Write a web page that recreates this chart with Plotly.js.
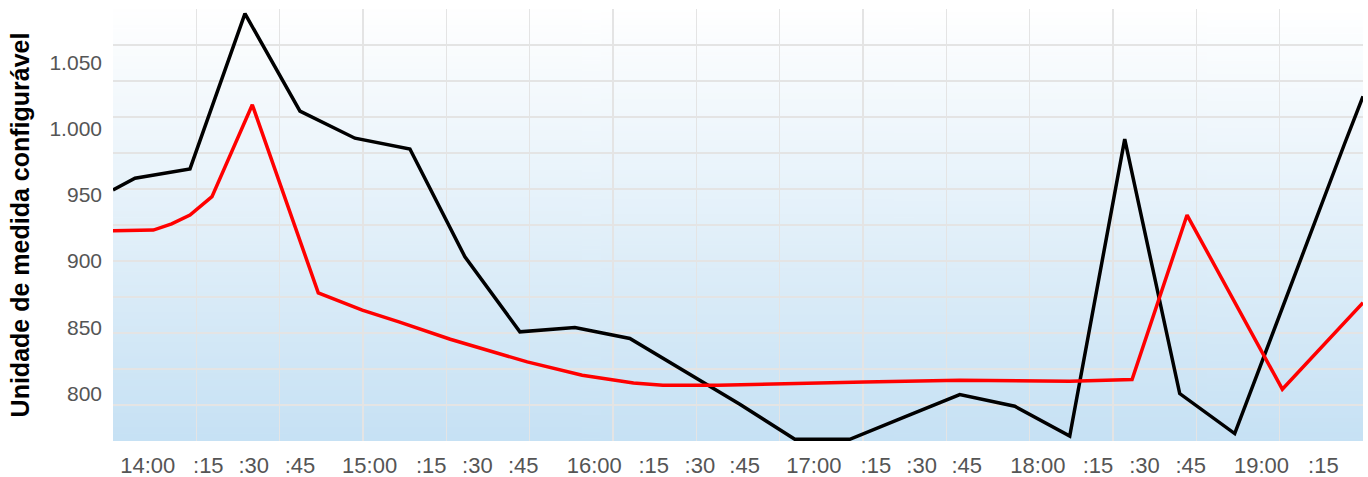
<!DOCTYPE html>
<html>
<head>
<meta charset="utf-8">
<script src="https://cdn.plot.ly/plotly-3.0.1.min.js"></script>
<style>
  html, body { margin: 0; padding: 0; background: #ffffff; }
  #chart { width: 1368px; height: 477px; }
</style>
</head>
<body>
<div id="chart"></div>
<script>
// ---- data (times as HH:MM, values in configurable unit) ----
const blackTimes = ["13:54","14:00","14:15","14:30","14:45","15:00","15:15","15:30","15:45",
  "16:00","16:15","16:30","16:45","17:00","17:15","17:30","17:45","18:00","18:15",
  "18:30","18:45","19:00","19:15","19:30","19:35"];
const blackValues = [953.6, 962.5, 969.5, 1086.7, 1013.1, 992.7, 984.6, 903.2, 846.6,
  849.9, 841.6, 816.9, 791.9, 765.5, 765.5, 782.4, 799.2, 790.4, 768.0,
  992.0, 800.0, 769.8, 880.0, 988.7, 1024.3];

const redTimes = ["13:54","14:05","14:10","14:15","14:21","14:32","14:50","15:02","15:12","15:26",
  "15:47","16:02","16:16","16:24","16:39","16:56","17:19","17:45","18:15","18:32",
  "18:47","19:13","19:35"];
const redValues = [922.9, 923.4, 928.0, 934.7, 948.6, 1017.9, 876.0, 863.0, 854.1, 841.0,
  823.9, 813.8, 808.0, 806.3, 806.3, 807.6, 808.8, 810.0, 809.3, 810.6,
  934.7, 803.3, 868.5];

// x tick labels and where they sit (minutes after 14:00)
const tickLabels = ["14:00",":15",":30",":45","15:00",":15",":30",":45","16:00",":15",":30",":45",
  "17:00",":15",":30",":45","18:00",":15",":30",":45","19:00",":15"];
const tickMinutes = [3.5, 20.0, 32.4, 45.0, 64.0, 80.8, 93.4, 105.9, 125.3, 141.5, 154.1, 166.3,
  185.2, 202.1, 214.6, 226.9, 246.3, 262.7, 275.4, 288.0, 307.3, 324.2];

const yTitle = "Unidade de medida configurável";

function toMin(s) { const p = s.split(":"); return (+p[0]) * 60 + (+p[1]) - 14 * 60; }

// gradient background image
const cv = document.createElement("canvas");
cv.width = 4; cv.height = 256;
const ctx = cv.getContext("2d");
const g = ctx.createLinearGradient(0, 0, 0, 256);
g.addColorStop(0, "rgb(255,255,255)");
g.addColorStop(1, "rgb(198,225,244)");
ctx.fillStyle = g; ctx.fillRect(0, 0, 4, 256);
const bgURL = cv.toDataURL("image/png");

const FONT = "Liberation Sans, Arial, sans-serif";

const traces = [
  { x: blackTimes.map(toMin), y: blackValues, type: "scatter", mode: "lines",
    line: { color: "#000000", width: 3.5 }, hoverinfo: "skip", showlegend: false },
  { x: redTimes.map(toMin), y: redValues, type: "scatter", mode: "lines",
    line: { color: "#ff0000", width: 3.5 }, hoverinfo: "skip", showlegend: false },
  { x: [], y: [], xaxis: "x2", yaxis: "y2", type: "scatter", mode: "lines", showlegend: false }
];

const layout = {
  width: 1368, height: 477,
  margin: { l: 113, r: 5, t: 9, b: 36 },
  paper_bgcolor: "#ffffff",
  plot_bgcolor: "rgba(0,0,0,0)",
  separators: ",.",
  showlegend: false,
  font: { family: FONT, color: "#555555" },
  images: [{ source: bgURL, xref: "paper", yref: "paper", x: 0, y: 1, sizex: 1, sizey: 1,
    sizing: "stretch", xanchor: "left", yanchor: "top", layer: "below" }],
  xaxis: {
    range: [-6, 335], showgrid: false, zeroline: false, showline: false,
    tickmode: "array", tickvals: tickMinutes, ticktext: tickLabels,
    ticks: "", tickfont: { family: FONT, size: 22, color: "#555555" },
    ticklabelstandoff: 9, fixedrange: true
  },
  yaxis: {
    range: [764.2, 1090.2], showgrid: false, zeroline: false, showline: false,
    tick0: 800, dtick: 50, tickformat: ",d", ticks: "",
    tickfont: { family: FONT, size: 21, color: "#555555" },
    ticklabelstandoff: 10,
    title: { text: yTitle, font: { family: FONT, size: 25, color: "#000000", weight: "bold" }, standoff: 12 },
    fixedrange: true
  },
  xaxis2: { overlaying: "x", range: [0, 15], dtick: 1, tick0: 0, showgrid: true,
    gridcolor: "#e4e4e4", gridwidth: 1.5, showticklabels: false, zeroline: false, ticks: "" },
  yaxis2: { overlaying: "y", range: [0, 12], dtick: 1, tick0: 0, showgrid: true,
    gridcolor: "#e4e4e4", gridwidth: 1.5, showticklabels: false, zeroline: false, ticks: "" }
};

Plotly.newPlot("chart", traces, layout, { displayModeBar: false, staticPlot: true });
</script>
</body>
</html>
